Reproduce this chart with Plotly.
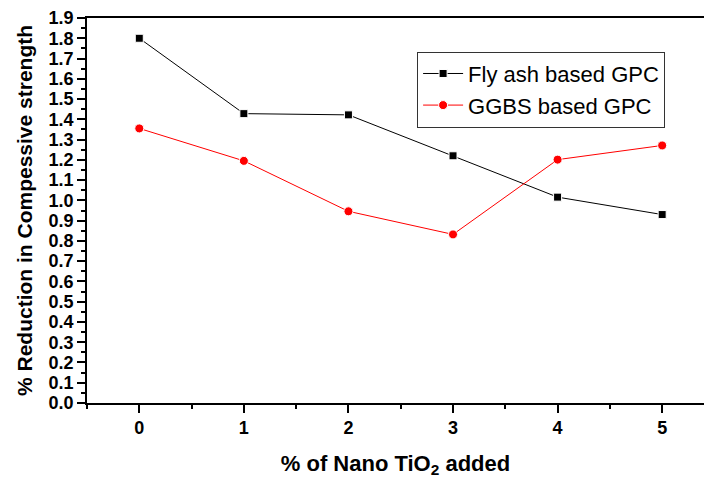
import plotly.graph_objects as go

nano_tio2 = [0, 1, 2, 3, 4, 5]
fly_ash_gpc = [1.80, 1.428, 1.422, 1.22, 1.016, 0.930]
ggbs_gpc = [1.355, 1.195, 0.946, 0.832, 1.201, 1.271]
y_ticks = [round(i * 0.1, 1) for i in range(20)]
y_tick_text = [f"{v:.1f}" for v in y_ticks]

fig = go.Figure()
fig.add_trace(go.Scatter(
    x=nano_tio2, y=fly_ash_gpc, mode="lines+markers", name="Fly ash based GPC",
    line=dict(color="black", width=1),
    marker=dict(symbol="square", size=8, color="black", line=dict(color="white", width=1)),
))
fig.add_trace(go.Scatter(
    x=nano_tio2, y=ggbs_gpc, mode="lines+markers", name="GGBS based GPC",
    line=dict(color="red", width=1),
    marker=dict(symbol="circle", size=9, color="red", line=dict(color="white", width=1)),
))

fam = "Liberation Sans, Arial"
fig.update_layout(
    width=704, height=481,
    margin=dict(l=87, r=0, t=18, b=78),
    plot_bgcolor="white", paper_bgcolor="white",
    showlegend=True,
    legend=dict(
        x=0.535, y=0.9125, xanchor="left", yanchor="top",
        bordercolor="#333333", borderwidth=1, bgcolor="white",
        font=dict(family=fam, size=22, color="black"),
        tracegroupgap=0, itemwidth=40,
    ),
    xaxis=dict(
        range=[-0.5, 5.4], tickmode="array", tickvals=nano_tio2,
        ticks="outside", ticklen=8, tickwidth=1.5, tickcolor="black",
        minor=dict(dtick=0.5, tick0=0, ticks="outside", ticklen=4, tickwidth=1.5, tickcolor="black"),
        showline=True, linecolor="black", linewidth=1.5, mirror=True,
        showgrid=False, zeroline=False,
        tickfont=dict(family=fam, size=18, color="black", weight="bold"),
        title=dict(text="<b>% of Nano TiO<sub>2</sub> added</b>", font=dict(family=fam, size=22, color="black"), standoff=18),
    ),
    yaxis=dict(
        range=[0, 1.9], tickmode="array", tickvals=y_ticks, ticktext=y_tick_text,
        ticks="outside", ticklen=8, tickwidth=1.5, tickcolor="black",
        minor=dict(dtick=0.05, tick0=0, ticks="outside", ticklen=4, tickwidth=1.5, tickcolor="black"),
        showline=True, linecolor="black", linewidth=1.5,
        showgrid=False, zeroline=False,
        tickfont=dict(family=fam, size=18, color="black", weight="bold"),
        title=dict(text="<b>% Reduction in Compessive strength</b>", font=dict(family=fam, size=21, color="black"), standoff=10),
    ),
)

fig.write_html("out.html")
